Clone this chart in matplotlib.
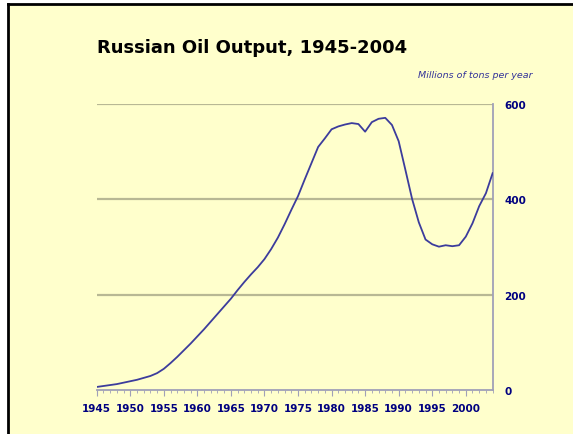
import matplotlib.pyplot as plt
from matplotlib.patches import Rectangle
from matplotlib.lines import Line2D

years = list(range(1945, 2005))
output = [7, 9, 11, 13, 16, 19, 22, 26, 30, 36,
          45, 57, 70, 84, 98, 113, 128, 144, 160, 176,
          192, 210, 227, 243, 258, 275, 296, 320, 348, 378,
          407, 442, 476, 510, 528, 547, 553, 557, 560, 558,
          542, 562, 569, 571, 556, 522, 462, 401, 352, 316,
          306, 301, 304, 302, 304, 322, 350, 386, 413, 455]
year_ticks = list(range(1945, 2001, 5))
y_ticks = [0, 200, 400, 600]

bg = '#FFFFCC'
navy = '#000080'

fig = plt.figure(figsize=(5.73, 4.35), dpi=100)
fig.patch.set_facecolor('white')
# pale panel with black frame on top and left
fig.patches.append(Rectangle((8 / 573, 0), 1, 1 - 5 / 435, transform=fig.transFigure,
                             facecolor=bg, edgecolor='none', zorder=-2))
fig.lines.append(Line2D([8 / 573, 1], [1 - 5 / 435] * 2, transform=fig.transFigure,
                        color='black', lw=2))
fig.lines.append(Line2D([8 / 573] * 2, [0, 1 - 5 / 435], transform=fig.transFigure,
                        color='black', lw=2))

ax = fig.add_axes([96.7 / 573, 1 - 391.3 / 435, (493.3 - 96.7) / 573, (391.3 - 105) / 435])
ax.set_facecolor(bg)
ax.plot(years, output, color='#3C3C9C', lw=1.3, zorder=3)

ax.set_xlim(1945, 2004.1)
ax.set_ylim(0, 600)
for v in y_ticks[1:]:
    ax.axhline(v, color='#B8B894', lw=1.6, zorder=1)

ax.yaxis.tick_right()
ax.set_yticks(y_ticks)
ax.tick_params(axis='y', length=0, pad=8, labelsize=7.5, labelcolor=navy)
ax.set_xticks(year_ticks)
ax.set_xticks(years, minor=True)
ax.tick_params(axis='x', which='major', length=4, color='#A0A0B8', pad=5,
               labelsize=7.5, labelcolor=navy)
ax.tick_params(axis='x', which='minor', length=2, color='#A0A0B8')
for lab in ax.get_xticklabels() + ax.get_yticklabels():
    lab.set_fontweight('bold')

for side in ['top', 'left']:
    ax.spines[side].set_visible(False)
ax.spines['right'].set_color('#A0A0B8')
ax.spines['bottom'].set_color('#A0A0B8')
ax.spines['right'].set_linewidth(1.3)
ax.spines['bottom'].set_linewidth(1.3)

fig.text(97 / 573, 1 - 48 / 435, 'Russian Oil Output, 1945-2004', fontsize=13,
         fontweight='bold', color='black', va='center', ha='left')
fig.text(533 / 573, 1 - 75 / 435, 'Millions of tons per year', fontsize=6.8,
         style='italic', color='#333399', va='center', ha='right')

fig.savefig('out.png', dpi=100, facecolor=fig.get_facecolor())
